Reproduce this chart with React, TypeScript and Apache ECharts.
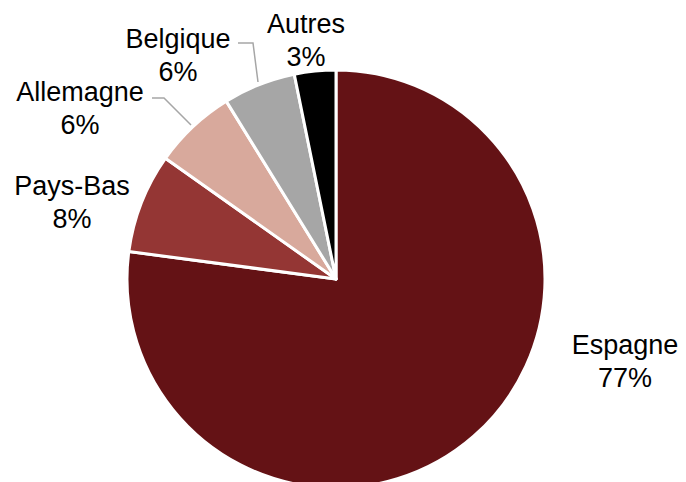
import React, { useEffect, useRef } from "react";
import * as echarts from "echarts";

const categories = ["Espagne", "Pays-Bas", "Allemagne", "Belgique", "Autres"];
const values = [77.1, 7.7, 6.4, 5.6, 3.2];
const colors = ["#641215", "#943634", "#D8A99C", "#A6A6A6", "#000000"];

// label placement (center of text block) and optional leader lines
const labelPos: [number, number][] = [
  [625, 361],
  [72, 202],
  [80, 108],
  [178, 55],
  [306, 40],
];
const leaderLines: ([number, number][] | null)[] = [
  null,
  null,
  [[191, 125], [164, 98], [152, 98]],
  [[258, 82], [253, 43], [238, 43]],
  null,
];

export default function App() {
  const ref = useRef<HTMLDivElement>(null);
  useEffect(() => {
    document.body.style.margin = "0";
    if (!ref.current) return;
    const chart = echarts.init(ref.current, undefined, { renderer: "svg" });
    chart.setOption({
      animation: false,
      backgroundColor: "#ffffff",
      series: [
        {
          type: "pie",
          center: [336, 279],
          radius: [0, 209],
          startAngle: 90,
          clockwise: true,
          percentPrecision: 0,
          avoidLabelOverlap: false,
          itemStyle: { borderColor: "#ffffff", borderWidth: 3 },
          label: {
            show: true,
            position: "outside",
            formatter: "{b}\n{d}%",
            fontFamily: "Liberation Sans, Arial, sans-serif",
            fontSize: 27,
            lineHeight: 33,
            color: "#000000",
            overflow: "none",
            width: 200,
          },
          labelLine: {
            show: true,
            lineStyle: { color: "#A6A6A6", width: 1.5 },
          },
          labelLayout: (params: any) => {
            const i = params.dataIndex;
            const p = labelPos[i];
            const out: any = {
              x: p[0],
              y: p[1],
              align: "center",
              verticalAlign: "middle",
            };
            if (leaderLines[i]) out.labelLinePoints = leaderLines[i];
            return out;
          },
          data: categories.map((name, i) => ({
            name,
            value: values[i],
            itemStyle: { color: colors[i] },
            labelLine: { show: leaderLines[i] != null },
          })),
        },
      ],
    });
    return () => chart.dispose();
  }, []);
  return <div ref={ref} style={{ width: 686, height: 482 }} />;
}
